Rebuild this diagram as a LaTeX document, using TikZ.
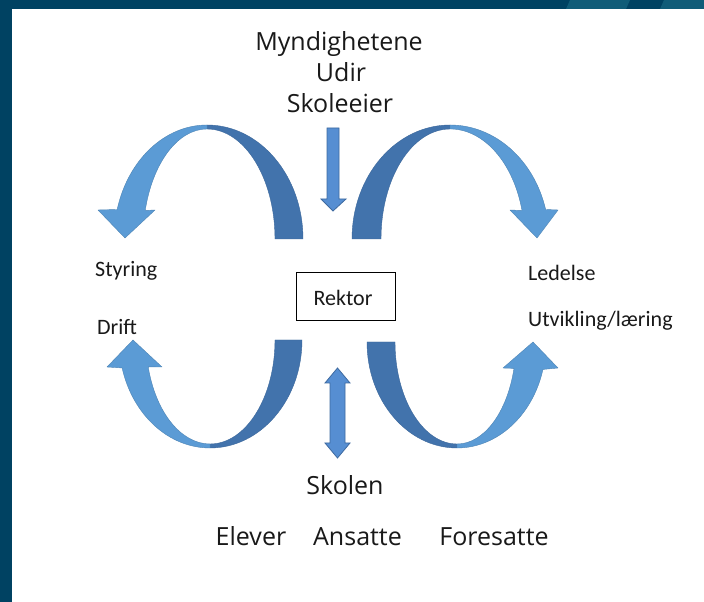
\documentclass[tikz,border=0pt]{standalone}
\usepackage{fontspec}
\newfontfamily\calib{Carlito}
\newfontfamily\osans{Open Sans}
\definecolor{navy}{RGB}{0,66,98}
\definecolor{tealband}{RGB}{16,92,120}
\definecolor{lightblue}{RGB}{91,155,213}
\definecolor{darkblue}{RGB}{66,115,172}
\definecolor{midblue}{RGB}{86,142,210}
\definecolor{edgeblue}{RGB}{62,106,160}
\definecolor{txt}{RGB}{25,25,25}
\tikzset{
  bigtxt/.style={font=\osans\fontsize{25}{30}\selectfont, text=txt, inner sep=0pt, anchor=base},
  smalltxt/.style={font=\calib\fontsize{22}{26}\selectfont, text=txt, inner sep=0pt, anchor=base west},
  lightpart/.style={fill=lightblue, draw=lightblue!85!black, line width=0.4pt, line join=round},
  darkpart/.style={fill=darkblue, draw=darkblue!90!black, line width=0.4pt, line join=round},
  straightarrow/.style={fill=midblue, draw=edgeblue, line width=0.8pt, line join=miter},
  rektorbox/.style={draw=black, line width=1pt, minimum width=99pt, minimum height=48pt, inner sep=0pt}
}
\begin{document}
\begin{tikzpicture}[x=1pt,y=1pt]
\useasboundingbox (0,0) rectangle (704,602);
% background frame
\fill[navy] (0,0) rectangle (704,602);
\fill[white] (12,0) rectangle (704,593);
\fill[tealband] (566,593) -- (570,602) -- (630,602) -- (626,593) -- cycle;
\fill[tealband] (660,593) -- (664,602) -- (704,602) -- (704,593) -- cycle;

% top texts
\node[bigtxt] (myn) at (339,551) {Myndighetene};
\node[bigtxt] (udir) at (341,520) {Udir};
\node[bigtxt] (skoleeier) at (340,489) {Skoleeier};

% down arrow
\draw[straightarrow] (327,474) -- (339,474) -- (339,403) -- (346,403) -- (333,391) -- (321,403) -- (327,403) -- cycle;

% left top curved arrow
\filldraw[darkpart] (303,363) arc[start angle=0,end angle=90,x radius=96,y radius=114] -- (207,473) arc[start angle=90,end angle=0,x radius=68,y radius=110] -- cycle;
\filldraw[lightpart] (207,477) arc[start angle=90,end angle=165,x radius=93,y radius=114] -- (98,392) -- (125,364) -- (155,392) -- (145.2,391.5) arc[start angle=165,end angle=90,x radius=64,y radius=110] -- cycle;

% right top curved arrow
\filldraw[darkpart] (352,363) arc[start angle=180,end angle=90,x radius=98,y radius=114] -- (450,473) arc[start angle=90,end angle=180,x radius=69,y radius=110] -- cycle;
\filldraw[lightpart] (450,477) arc[start angle=90,end angle=15,x radius=99,y radius=114] -- (558,392) -- (537,364) -- (510,392) -- (522,391.5) arc[start angle=15,end angle=90,x radius=74.5,y radius=110] -- cycle;

% left bottom curved arrow
\filldraw[darkpart] (302,262) arc[start angle=0,end angle=-90,x radius=92,y radius=108] -- (210,158) arc[start angle=-90,end angle=0,x radius=65,y radius=104] -- cycle;
\filldraw[lightpart] (210,154) arc[start angle=-90,end angle=-165,x radius=91,y radius=108] -- (107,235) -- (133,262) -- (162,235) -- (148.2,235.1) arc[start angle=-165,end angle=-90,x radius=64,y radius=104] -- cycle;

% right bottom curved arrow
\filldraw[darkpart] (367,260) arc[start angle=180,end angle=270,x radius=90,y radius=106] -- (457,158) arc[start angle=270,end angle=180,x radius=62,y radius=102] -- cycle;
\filldraw[lightpart] (457,154) arc[start angle=-90,end angle=-15,x radius=89,y radius=106] -- (558,234) -- (533,260) -- (503,234) -- (514,233.6) arc[start angle=-15,end angle=-90,x radius=59,y radius=102] -- cycle;

% side labels
\node[smalltxt] (styring) at (95,325) {Styring};
\node[smalltxt] (drift) at (97,267) {Drift};
\node[smalltxt] (ledelse) at (528,321) {Ledelse};
\node[smalltxt] (utvikling) at (528,275) {Utvikling/læring};

% Rektor
\node[rektorbox] (rektor) at (345.5,305) {};
\node[font=\calib\fontsize{22}{26}\selectfont, text=txt, inner sep=0pt, anchor=base] (rektortxt) at (343,296) {Rektor};

% double arrow
\draw[straightarrow] (337.5,234) -- (350,219) -- (345,219) -- (345,159) -- (350,159) -- (337.5,144) -- (325,159) -- (330,159) -- (330,219) -- (325,219) -- cycle;

% bottom texts
\node[bigtxt] (skolen) at (345,107) {Skolen};
\node[bigtxt] (elever) at (251,56) {Elever};
\node[bigtxt] (ansatte) at (357.5,56) {Ansatte};
\node[bigtxt] (foresatte) at (494,56) {Foresatte};
\end{tikzpicture}
\end{document}
